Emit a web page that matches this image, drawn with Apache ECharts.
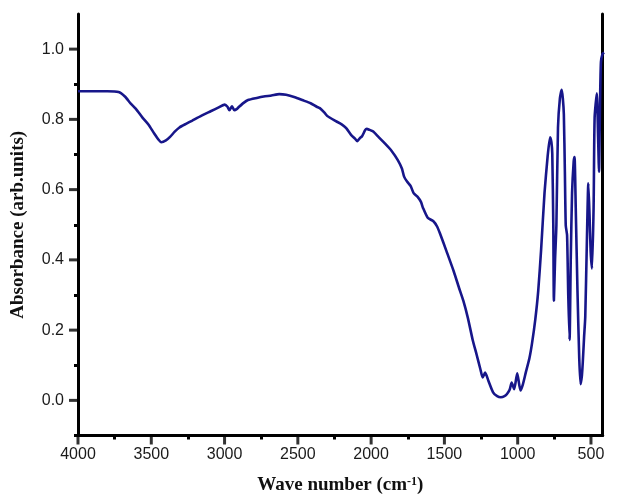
<!DOCTYPE html>
<html>
<head>
<meta charset="utf-8">
<script src="https://cdn.jsdelivr.net/npm/echarts@6/dist/echarts.min.js"></script>
<style>
html,body{margin:0;padding:0;background:#fff;}
#ftir{width:642px;height:500px;}
</style>
</head>
<body>
<div id="ftir"></div>
<script>
// spectrum (cm-1, absorbance)
var waveNumbers = [4000,3900,3800,3723,3680,3640,3605,3560,3521,3480,3450,3432,3400,3372,3340,3308,3260,3223,3160,3095,3040,2999,2980,2967,2950,2933,2915,2903,2870,2840,2780,2733,2680,2627,2580,2520,2470,2413,2371,2350,2320,2300,2286,2250,2201,2170,2137,2110,2094,2078,2062,2040,2030,2010,1988,1950,1903,1860,1818,1790,1775,1755,1730,1710,1684,1660,1646,1614,1575,1550,1530,1486,1436,1400,1371,1340,1307,1280,1254,1239,1222,1200,1168,1140,1115,1090,1073,1055,1041,1024,1003,981,965,945,920,902,880,860,840,817,796,779,770,764,757,753,745,736,725,712,700,692,685,678,672,663,655,646,638,629,618,612,604,592,580,571,562,556,547,539,528,518,510,502,493,482,475,460,452,445,438,432,421,410];
var absorbance = [0.880,0.880,0.880,0.878,0.865,0.845,0.830,0.805,0.786,0.760,0.742,0.735,0.740,0.750,0.765,0.777,0.788,0.796,0.810,0.823,0.834,0.842,0.836,0.826,0.837,0.826,0.830,0.835,0.847,0.855,0.861,0.865,0.868,0.872,0.870,0.863,0.855,0.846,0.836,0.832,0.820,0.810,0.806,0.797,0.786,0.775,0.756,0.745,0.738,0.746,0.752,0.770,0.773,0.770,0.766,0.750,0.730,0.710,0.684,0.660,0.637,0.623,0.610,0.590,0.580,0.565,0.548,0.520,0.510,0.495,0.475,0.425,0.367,0.320,0.284,0.235,0.172,0.130,0.088,0.065,0.079,0.056,0.023,0.012,0.009,0.012,0.018,0.030,0.051,0.032,0.077,0.028,0.045,0.079,0.120,0.163,0.230,0.311,0.430,0.590,0.693,0.749,0.735,0.702,0.500,0.284,0.400,0.498,0.777,0.860,0.884,0.860,0.814,0.650,0.498,0.470,0.300,0.172,0.400,0.590,0.680,0.693,0.550,0.311,0.120,0.046,0.070,0.107,0.180,0.237,0.450,0.618,0.530,0.423,0.375,0.550,0.805,0.874,0.760,0.651,0.850,0.963,0.986,0.990];

var xMajor = [4000,3500,3000,2500,2000,1500,1000,500];
var xMinor = [3750,3250,2750,2250,1750,1250,750];
var yMajor = [0,0.2,0.4,0.6,0.8,1.0];
var yMinor = [-0.1,0.1,0.3,0.5,0.7,0.9];

var spectrum = [];
for (var i = 0; i < waveNumbers.length; i++) {
	spectrum.push([waveNumbers[i], absorbance[i]]);
}
// major tick marks sit on the axes, placed through the scales
var xTickPts = xMajor.map(function(v){ return [v, -0.1]; });
var yTickPts = yMajor.map(function(v){ return [4000, v]; });

var chart = echarts.init(document.getElementById('ftir'));
var labelFont = {color:'#1a1a1a', fontSize:16, fontFamily:'Liberation Sans'};
var nameFont = {color:'#111', fontSize:19, fontWeight:'bold', fontFamily:'Liberation Serif'};
var noLine = {show:false, onZero:false};

option = {
	animation:false,
	grid:{left:78, right:3, top:14, bottom:56},
	xAxis:[{
		type:'value', inverse:true, min:420, max:4000, position:'bottom',
		axisLine:{onZero:false, lineStyle:{color:'#000', width:3}},
		axisTick:{show:false},
		axisLabel:Object.assign({margin:11, customValues:xMajor.slice(), showMinLabel:true, showMaxLabel:true,
			formatter:function(v){return String(v);}}, labelFont),
		splitLine:{show:false},
		name:'Wave number (cm{sup|-1})',
		nameLocation:'middle', nameGap:40,
		nameTextStyle:Object.assign({rich:{sup:{fontSize:12, fontWeight:'bold', fontFamily:'Liberation Serif', verticalAlign:'top', padding:[0,0,8,0]}}}, nameFont)
	},{
		type:'value', inverse:true, min:420, max:4000, position:'bottom', offset:0,
		axisLine:noLine,
		axisTick:{show:true, length:4, lineStyle:{color:'#000', width:3}, customValues:xMinor.slice()},
		axisLabel:{show:false},
		splitLine:{show:false}
	}],
	yAxis:[{
		type:'value', min:-0.1, max:1.1, position:'left',
		axisLine:{show:true, onZero:false, lineStyle:{color:'#000', width:3}},
		axisTick:{show:false},
		axisLabel:Object.assign({margin:14, customValues:yMajor.slice(), formatter:function(v){return v.toFixed(1);}}, labelFont),
		splitLine:{show:false},
		name:'Absorbance (arb.units)',
		nameLocation:'middle', nameGap:50, nameRotate:90,
		nameTextStyle:nameFont
	},{
		type:'value', min:-0.1, max:1.1, position:'left', offset:0,
		axisLine:noLine,
		axisTick:{show:true, length:4, lineStyle:{color:'#000', width:3}, customValues:yMinor.slice()},
		axisLabel:{show:false},
		splitLine:{show:false}
	},{
		type:'value', min:-0.1, max:1.1, position:'right', offset:0,
		axisLine:{show:true, onZero:false, lineStyle:{color:'#000', width:3}},
		axisTick:{show:false},
		axisLabel:{show:false},
		splitLine:{show:false}
	}],
	series:[{
		type:'line',
		name:'FTIR',
		xAxisIndex:0, yAxisIndex:0,
		symbol:'none',
		smooth:0.2,
		clip:true,
		lineStyle:{color:'#17168a', width:2.6},
		data:spectrum
	},{
		type:'scatter', name:'xticks', silent:true, clip:false, z:5,
		xAxisIndex:0, yAxisIndex:0,
		symbol:'rect', symbolSize:[3,8], symbolOffset:[0,5],
		itemStyle:{color:'#000'},
		data:xTickPts
	},{
		type:'scatter', name:'yticks', silent:true, clip:false, z:5,
		xAxisIndex:0, yAxisIndex:0,
		symbol:'rect', symbolSize:[8,3], symbolOffset:[-5,0],
		itemStyle:{color:'#000'},
		data:yTickPts
	}]
};
chart.setOption(option);
</script>
</body>
</html>
